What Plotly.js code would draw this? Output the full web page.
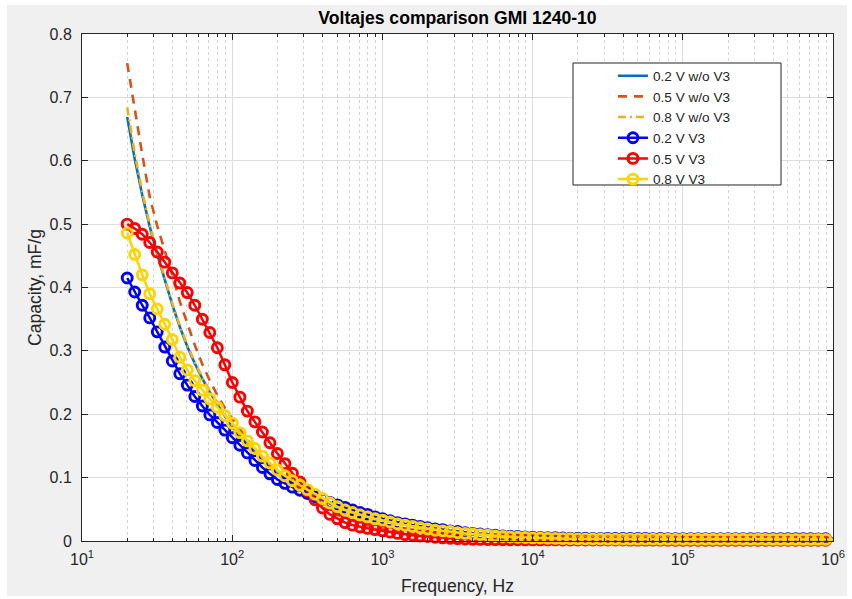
<!DOCTYPE html>
<html>
<head>
<meta charset="utf-8">
<script src="https://cdn.plot.ly/plotly-3.0.1.min.js"></script>
<style>
  html, body { margin:0; padding:0; background:#ffffff; width:852px; height:599px; overflow:hidden; }
  #chart { position:absolute; left:7px; top:5px; width:840px; height:591px; }
</style>
</head>
<body>
<div id="chart"></div>
<script>
// Frequency grid (Hz)
const freq = [
  20, 22.44, 25.18, 28.25, 31.70, 35.57, 39.91, 44.77, 50.24, 56.37, 63.25, 70.96, 79.62, 89.34, 100.2, 112.5, 126.2, 141.6, 158.9, 178.3,
  200, 224.4, 251.8, 282.5, 317.0, 355.7, 399.1, 447.7, 502.4, 563.7, 632.5, 709.6, 796.2, 893.4, 1002, 1125, 1262, 1416, 1589, 1783,
  2000, 2244, 2518, 2825, 3170, 3557, 3991, 4477, 5024, 5637, 6325, 7096, 7962, 8934, 10024, 11247, 12619, 14159, 15887, 17825,
  20000, 22440, 25179, 28251, 31698, 35566, 39905, 44774, 50238, 56368, 63246, 70963, 79621, 89337, 100237, 112468, 126191, 141589, 158866, 178250,
  200000, 224404, 251785, 282508, 316979, 355656, 399052, 447744, 502377, 563677, 632456, 709627, 796214, 893367, 1002374
];

// 0.2 V w/o V3
const v02_noV3 = [
  0.669,0.603,0.546,0.496,0.452,0.411,0.373,0.338,0.307,0.280,
  0.256,0.235,0.215,0.197,0.180,0.165,0.152,0.140,0.129,0.118,
  0.108,0.099,0.091,0.083,0.076,0.070,0.064,0.059,0.054,0.050,
  0.046,0.042,0.039,0.036,0.033,0.030,0.028,0.026,0.024,0.022,
  0.020,0.018,0.017,0.015,0.014,0.013,0.012,0.011,0.010,0.009,
  0.008,0.0075,0.007,0.0065,0.006,
  0.0057,0.0054,0.0051,0.0048,0.0046,0.0044,0.0043,0.0042,0.0041,0.0040,
  0.0040,0.0039,0.0040,0.0039,0.0039,0.0038,0.0039,0.0038,0.0038,0.0038,
  0.0037,0.0038,0.0037,0.0037,0.0037,0.0036,0.0037,0.0036,0.0036,0.0036,
  0.0036,0.0035,0.0036,0.0035,0.0035,0.0035,0.0035,0.0034,0.0035,0.0034
];

// 0.5 V w/o V3
const v05_noV3 = [
  0.754,0.680,0.610,0.543,0.497,0.458,0.420,0.378,0.342,0.309,
  0.279,0.253,0.230,0.210,0.193,0.176,0.160,0.145,0.131,0.118,
  0.106,0.095,0.085,0.076,0.068,0.060,0.053,0.047,0.041,0.036,
  0.032,0.028,0.025,0.022,0.019,0.017,0.015,0.013,0.011,0.010,
  0.009,0.008,0.007,0.006,0.005,0.0045,0.004,0.0037,0.0034,0.0032,
  0.0030,0.0029,0.0028,0.0027,0.0026,
  0.0025,0.0025,0.0024,0.0024,0.0023,0.0023,0.0023,0.0022,0.0022,0.0022,
  0.0022,0.0021,0.0021,0.0021,0.0021,0.0021,0.0020,0.0020,0.0020,0.0020,
  0.0020,0.0020,0.0019,0.0019,0.0019,0.0019,0.0019,0.0019,0.0019,0.0018,
  0.0018,0.0018,0.0018,0.0018,0.0018,0.0018,0.0018,0.0017,0.0017,0.0017
];

// 0.8 V w/o V3
const v08_noV3 = [
  0.684,0.612,0.551,0.499,0.454,0.413,0.375,0.340,0.309,0.282,
  0.258,0.237,0.217,0.199,0.182,0.167,0.154,0.142,0.131,0.120,
  0.110,0.101,0.093,0.085,0.078,0.071,0.065,0.060,0.055,0.051,
  0.047,0.043,0.040,0.037,0.034,0.031,0.029,0.027,0.025,0.023,
  0.021,0.019,0.017,0.016,0.014,0.013,0.012,0.011,0.010,0.009,
  0.0085,0.008,0.0075,0.007,0.0065,
  0.0060,0.0056,0.0052,0.0049,0.0046,0.0044,0.0042,0.0041,0.0040,0.0039,
  0.0038,0.0038,0.0037,0.0037,0.0036,0.0036,0.0036,0.0035,0.0035,0.0035,
  0.0034,0.0034,0.0034,0.0034,0.0033,0.0033,0.0033,0.0033,0.0032,0.0032,
  0.0032,0.0032,0.0032,0.0031,0.0031,0.0031,0.0031,0.0031,0.0030,0.0030
];

// 0.2 V V3
const v02_V3 = [
  0.415,0.393,0.372,0.352,0.330,0.306,0.284,0.264,0.246,0.228,
  0.213,0.199,0.187,0.175,0.163,0.151,0.139,0.127,0.116,0.106,
  0.097,0.091,0.085,0.080,0.075,0.070,0.066,0.061,0.057,0.053,
  0.049,0.045,0.042,0.038,0.035,0.032,0.029,0.027,0.025,0.023,
  0.021,0.019,0.018,0.016,0.015,0.013,0.012,0.011,0.010,0.009,
  0.008,0.0075,0.007,0.0065,0.006,
  0.0057,0.0054,0.0051,0.0048,0.0046,0.0044,0.0043,0.0042,0.0041,0.0040,
  0.0040,0.0039,0.0040,0.0039,0.0039,0.0038,0.0039,0.0038,0.0038,0.0038,
  0.0037,0.0038,0.0037,0.0037,0.0037,0.0036,0.0037,0.0036,0.0036,0.0036,
  0.0036,0.0035,0.0036,0.0035,0.0035,0.0035,0.0035,0.0034,0.0035,0.0034
];

// 0.5 V V3
const v05_V3 = [
  0.500,0.493,0.484,0.471,0.456,0.440,0.423,0.407,0.392,0.372,
  0.350,0.329,0.305,0.278,0.250,0.227,0.205,0.188,0.172,0.155,
  0.138,0.122,0.107,0.093,0.079,0.065,0.052,0.042,0.035,0.029,
  0.025,0.022,0.020,0.018,0.016,0.014,0.012,0.010,0.009,0.008,
  0.007,0.006,0.005,0.0043,0.0037,0.0032,0.0028,0.0025,0.0023,0.0021,
  0.0020,0.0019,0.0019,0.0018,0.0018,
  0.0017,0.0017,0.0017,0.0016,0.0016,0.0016,0.0016,0.0015,0.0015,0.0015,
  0.0015,0.0015,0.0014,0.0014,0.0014,0.0014,0.0014,0.0014,0.0013,0.0013,
  0.0013,0.0013,0.0013,0.0013,0.0013,0.0012,0.0012,0.0012,0.0012,0.0012,
  0.0012,0.0012,0.0012,0.0011,0.0011,0.0011,0.0011,0.0011,0.0011,0.0011
];

// 0.8 V V3
const v08_V3 = [
  0.486,0.452,0.420,0.390,0.366,0.342,0.318,0.290,0.270,0.253,
  0.238,0.224,0.211,0.198,0.186,0.171,0.158,0.146,0.134,0.123,
  0.112,0.103,0.095,0.088,0.081,0.074,0.067,0.060,0.054,0.049,
  0.045,0.041,0.038,0.035,0.033,0.030,0.027,0.025,0.023,0.021,
  0.019,0.017,0.016,0.015,0.013,0.012,0.011,0.010,0.009,0.008,
  0.007,0.0065,0.006,0.0055,0.005,
  0.0047,0.0044,0.0041,0.0038,0.0036,0.0034,0.0033,0.0032,0.0031,0.0030,
  0.0030,0.0029,0.0030,0.0029,0.0029,0.0029,0.0028,0.0029,0.0028,0.0028,
  0.0028,0.0028,0.0027,0.0028,0.0027,0.0027,0.0027,0.0027,0.0026,0.0027,
  0.0026,0.0026,0.0026,0.0026,0.0026,0.0025,0.0026,0.0025,0.0025,0.0025
];

const seriesNames = ['0.2 V w/o V3','0.5 V w/o V3','0.8 V w/o V3','0.2 V V3','0.5 V V3','0.8 V V3'];
const xTickVals = [10, 100, 1000, 10000, 100000, 1000000];
const xTickText = ['10<sup>1</sup>','10<sup>2</sup>','10<sup>3</sup>','10<sup>4</sup>','10<sup>5</sup>','10<sup>6</sup>'];

const FONT = '"Liberation Sans", Arial, Helvetica, sans-serif';
const AX = '#262626';

const traces = [
  {x: freq, y: v02_noV3, name: seriesNames[0], mode:'lines',
   line:{color:'#0072BD', width:2.6}},
  {x: freq, y: v05_noV3, name: seriesNames[1], mode:'lines',
   line:{color:'#D95319', width:2.6, dash:'9px,7px'}},
  {x: freq, y: v08_noV3, name: seriesNames[2], mode:'lines',
   line:{color:'#EDB120', width:2.6, dash:'8px,4px,2px,4px'}},
  {x: freq, y: v02_V3, name: seriesNames[3], mode:'lines+markers', cliponaxis:false,
   line:{color:'#0000FF', width:2.5},
   marker:{symbol:'circle-open', size:10, color:'#0000FF', line:{width:2.9, color:'#0000FF'}}},
  {x: freq, y: v05_V3, name: seriesNames[4], mode:'lines+markers', cliponaxis:false,
   line:{color:'#FF0000', width:2.5},
   marker:{symbol:'circle-open', size:10, color:'#FF0000', line:{width:2.9, color:'#FF0000'}}},
  {x: freq, y: v08_V3, name: seriesNames[5], mode:'lines+markers', cliponaxis:false,
   line:{color:'#FFD400', width:2.5},
   marker:{symbol:'circle-open', size:10, color:'#FFD400', line:{width:2.9, color:'#FFD400'}}}
];

const layout = {
  width: 840, height: 591,
  margin: {l:75, r:14, t:29, b:55, pad:0},
  paper_bgcolor:'#f0f0f0', plot_bgcolor:'#ffffff',
  font:{family:FONT, color:AX, size:16},
  showlegend:true,
  title:{text:'<b>Voltajes comparison GMI 1240-10</b>', font:{family:FONT, size:17.6, color:'#000000'},
         x:0.5, xref:'paper', xanchor:'center', y:1-13/591, yref:'container', yanchor:'middle'},
  xaxis:{type:'log', range:[1,6], tickmode:'array', tickvals:xTickVals, ticktext:xTickText,
         ticks:'inside', ticklen:6, tickwidth:1, tickcolor:AX, showline:true, linecolor:AX, linewidth:1,
         mirror:'allticks', showgrid:true, gridcolor:'#dedede', gridwidth:1, zeroline:false,
         tickfont:{size:16, color:AX}, ticklabelstandoff:4,
         minor:{dtick:'D1', ticks:'inside', ticklen:3, tickcolor:AX, showgrid:true, gridcolor:'#d4d4d4', griddash:'dot', gridwidth:1},
         title:{text:'Frequency, Hz', font:{size:17.6, color:AX}, standoff:14}},
  yaxis:{range:[0,0.8], dtick:0.1, tick0:0, ticks:'inside', ticklen:6, tickwidth:1, tickcolor:AX,
         showline:true, linecolor:AX, linewidth:1, mirror:'allticks', showgrid:true, gridcolor:'#dedede',
         zeroline:false, tickfont:{size:16, color:AX}, ticklabelstandoff:6,
         title:{text:'Capacity, mF/g', font:{size:17.6, color:AX}, standoff:3}},
  legend:{x:0.707, xanchor:'left', y:0.948, yanchor:'top', bgcolor:'rgba(0,0,0,0)', borderwidth:0,
          font:{size:13.6, color:AX, family:FONT}, traceorder:'normal'},
  shapes:[{type:'rect', xref:'paper', yref:'paper', x0:0.6538, x1:0.9308, y0:0.7022, y1:0.9428,
           fillcolor:'#ffffff', line:{color:AX, width:1}, layer:'above'}]
};

Plotly.newPlot('chart', traces, layout, {displayModeBar:false, staticPlot:true});
</script>
</body>
</html>
